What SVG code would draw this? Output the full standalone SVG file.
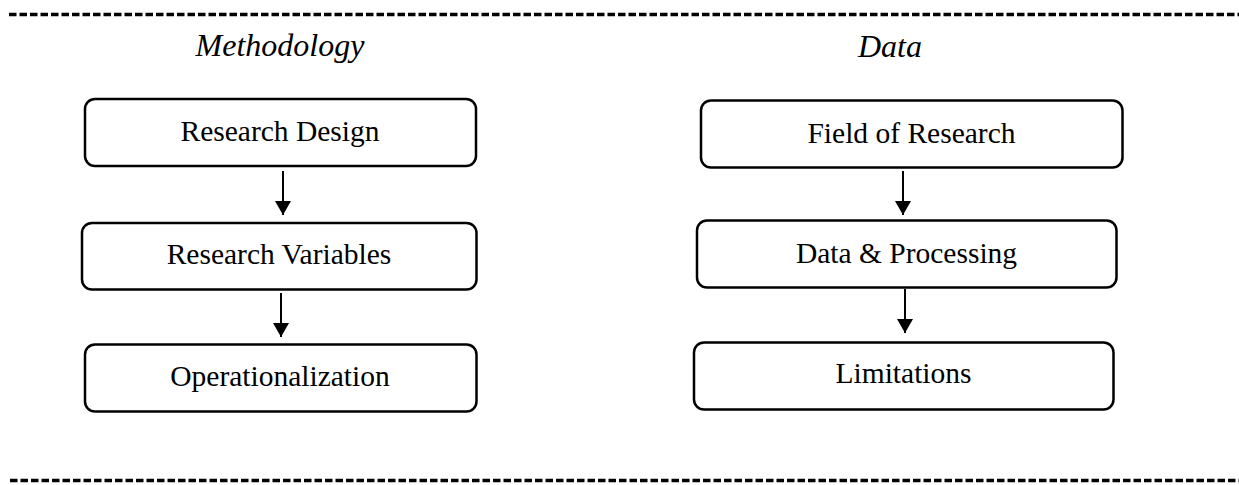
<svg xmlns="http://www.w3.org/2000/svg" width="1239" height="485" viewBox="0 0 1239 485">
<defs>
<style>
.box{fill:#fff;stroke:#000;stroke-width:2.5}
.lbl{font-family:"Liberation Serif","Times New Roman",serif;font-size:29.5px;fill:#000;text-anchor:middle}
.hd{font-family:"Liberation Serif","Times New Roman",serif;font-size:32px;font-style:italic;fill:#000;text-anchor:middle}
.dash{stroke:#000;stroke-width:3.5;stroke-dasharray:7.5 3}
.conn{stroke:#000;stroke-width:2;fill:none}
</style>
<marker id="ah" markerWidth="14" markerHeight="16" refX="14" refY="8" orient="auto" markerUnits="userSpaceOnUse">
<path d="M0,0 L14,8 L0,16 Z" fill="#000"/>
</marker>
</defs>
<rect width="1239" height="485" fill="#fff"/>
<line class="dash" x1="9" y1="14.5" x2="1239" y2="14.5"/>
<line class="dash" x1="10" y1="480.5" x2="1239" y2="480.5"/>
<text class="hd" x="280" y="56">Methodology</text>
<text class="hd" x="890" y="57">Data</text>
<g id="connectors">
<line class="conn" x1="283" y1="171" x2="283" y2="215" marker-end="url(#ah)"/>
<line class="conn" x1="281" y1="293" x2="281" y2="337" marker-end="url(#ah)"/>
<line class="conn" x1="903" y1="171" x2="903" y2="215" marker-end="url(#ah)"/>
<line class="conn" x1="905" y1="289" x2="905" y2="333" marker-end="url(#ah)"/>
</g>
<g id="research-design">
<rect class="box" x="85" y="99" width="391" height="67" rx="10"/>
<text class="lbl" x="280" y="140.5">Research Design</text>
</g>
<g id="research-variables">
<rect class="box" x="82" y="223" width="394.5" height="66.5" rx="10"/>
<text class="lbl" x="279" y="263.5">Research Variables</text>
</g>
<g id="operationalization">
<rect class="box" x="85" y="344.5" width="391.5" height="67" rx="10"/>
<text class="lbl" x="280" y="385.5">Operationalization</text>
</g>
<g id="field-of-research">
<rect class="box" x="701" y="100.5" width="421.5" height="67" rx="10"/>
<text class="lbl" x="911.5" y="142.5">Field of Research</text>
</g>
<g id="data-processing">
<rect class="box" x="697" y="220.5" width="419.5" height="67" rx="10"/>
<text class="lbl" x="906.5" y="262.5">Data &amp; Processing</text>
</g>
<g id="limitations">
<rect class="box" x="694" y="342.5" width="419.5" height="67" rx="10"/>
<text class="lbl" x="903.5" y="382.5">Limitations</text>
</g>
</svg>
